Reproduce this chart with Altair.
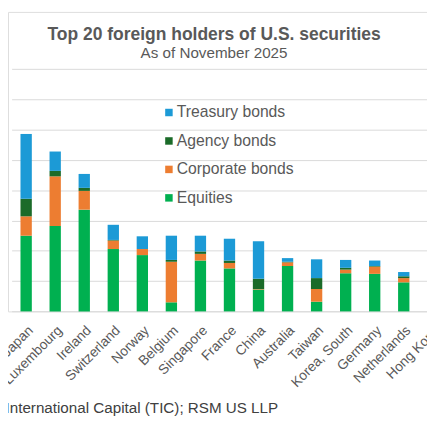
import altair as alt
import pandas as pd

countries = ["Japan", "Luxembourg", "Ireland", "Switzerland", "Norway", "Belgium",
             "Singapore", "France", "China", "Australia", "Taiwan", "Korea, South",
             "Germany", "Netherlands", "Hong Kong"]
equities  = [1.25, 1.41, 1.68, 1.03, 0.93, 0.15, 0.84, 0.71, 0.36, 0.75, 0.16, 0.63, 0.62, 0.48, 0.35]
corporate = [0.32, 0.82, 0.31, 0.14, 0.10, 0.67, 0.11, 0.09, 0.01, 0.06, 0.21, 0.06, 0.12, 0.07, 0.06]
agency    = [0.29, 0.09, 0.05, 0.01, 0.00, 0.03, 0.04, 0.04, 0.17, 0.01, 0.18, 0.03, 0.01, 0.03, 0.04]
treasury  = [1.07, 0.32, 0.23, 0.25, 0.21, 0.40, 0.26, 0.36, 0.62, 0.06, 0.31, 0.13, 0.09, 0.07, 0.15]

series = ["Treasury bonds", "Agency bonds", "Corporate bonds", "Equities"]
colors = ["#1c9ad6", "#1b6b29", "#ed7d31", "#00b050"]
stack_rank = {"Equities": 0, "Corporate bonds": 1, "Agency bonds": 2, "Treasury bonds": 3}

TITLE = "Top 20 foreign holders of U.S. securities"
SUBTITLE = "As of November 2025"
SOURCE = "Source: U.S. Treasury, Treasury International Capital (TIC); RSM US LLP"

rows = []
for i, c in enumerate(countries):
    for s, vals in zip(["Equities", "Corporate bonds", "Agency bonds", "Treasury bonds"],
                       [equities, corporate, agency, treasury]):
        rows.append({"country": c, "type": s, "value": vals[i], "rank": stack_rank[s]})
df = pd.DataFrame(rows)

FONT = "Liberation Sans"
GRAY = "#595959"

bars = alt.Chart(df).mark_bar().encode(
    x=alt.X("country:N", sort=countries, title=None,
            scale=alt.Scale(domain=countries, range=[3.7, 447.7],
                            paddingInner=0.61, paddingOuter=0.305),
            axis=alt.Axis(labelAngle=-45, labelFontSize=14, labelColor=GRAY,
                          labelFont=FONT, ticks=False, domain=False,
                          labelPadding=12, labelOverlap=False)),
    y=alt.Y("value:Q", stack="zero", title=None,
            scale=alt.Scale(domain=[0, 4.945], nice=False),
            axis=alt.Axis(values=[0, 0.5, 1, 1.5, 2, 2.5, 3, 3.5, 4], labels=False,
                          ticks=False, domain=False, gridColor="#d9d9d9", gridWidth=1)),
    color=alt.Color("type:N", scale=alt.Scale(domain=series, range=colors),
                    legend=alt.Legend(title=None, orient="none", legendX=156, legendY=94.5,
                                      direction="vertical", symbolType="square",
                                      symbolSize=58, symbolStrokeWidth=0,
                                      labelFontSize=16, labelColor=GRAY, labelFont=FONT,
                                      rowPadding=13, labelOffset=0)),
    order=alt.Order("rank:Q", sort="ascending"),
)

title_t = alt.Chart(pd.DataFrame({"t": [TITLE]})).mark_text(
    font=FONT, fontSize=17.8, fontWeight="bold", color=GRAY, align="center", baseline="alphabetic"
).encode(text="t:N", x=alt.value(210), y=alt.value(28.7))

sub_t = alt.Chart(pd.DataFrame({"t": [SUBTITLE]})).mark_text(
    font=FONT, fontSize=15.5, color=GRAY, align="center", baseline="alphabetic"
).encode(text="t:N", x=alt.value(210), y=alt.value(46.5))

src_t = alt.Chart(pd.DataFrame({"t": [SOURCE]})).mark_text(
    font=FONT, fontSize=15.5, color="#404040", align="right", baseline="alphabetic"
).encode(text="t:N", x=alt.value(275.3), y=alt.value(408.7))

chart = alt.layer(bars, title_t, sub_t, src_t).properties(
    width=427, height=305.2,
    autosize=alt.AutoSizeParams(type="none"),
    padding={"left": 0, "top": 0, "right": 0, "bottom": 113.8},
).configure_view(stroke=None).configure(font=FONT)

chart.save("out.html", embed_options={"renderer": "svg", "actions": False})
